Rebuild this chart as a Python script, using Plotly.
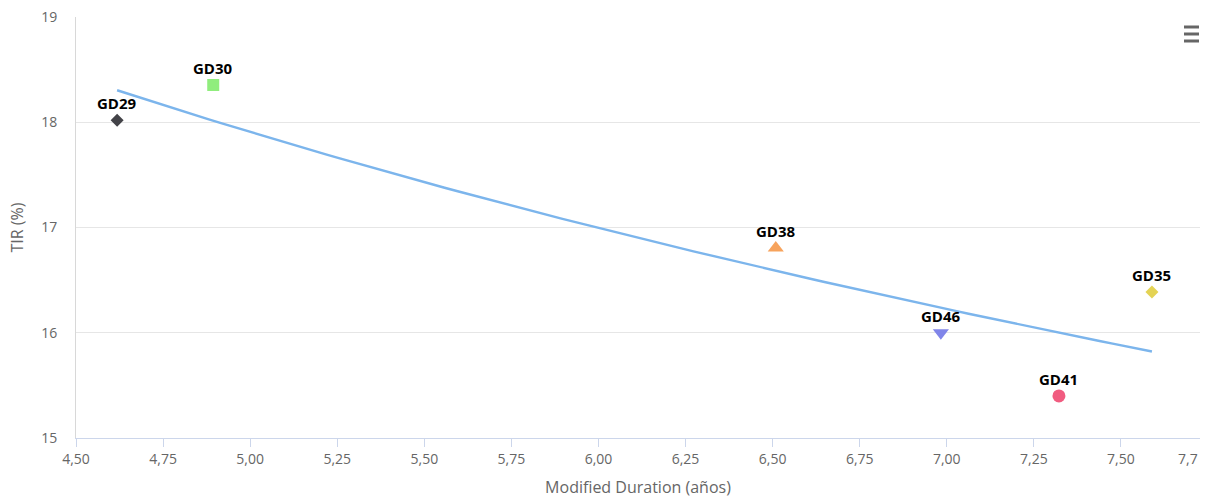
import numpy as np
import plotly.graph_objects as go

# ---- data ----
bond_names = ["GD29", "GD30", "GD38", "GD46", "GD41", "GD35"]
modified_duration = [4.618, 4.894, 6.509, 6.983, 7.322, 7.589]
tir_pct = [18.02, 18.354, 16.805, 16.00, 15.40, 16.387]
marker_symbols = ["diamond", "square", "triangle-up", "triangle-down", "circle", "diamond"]
marker_colors = ["#434348", "#90ed7d", "#f7a35c", "#8085e9", "#f15c80", "#e4d354"]
marker_sizes = [10, 12, 14, 14, 13, 10]
x_tick_values = [4.50, 4.75, 5.00, 5.25, 5.50, 5.75, 6.00, 6.25, 6.50, 6.75, 7.00, 7.25, 7.50]
y_tick_values = [15, 16, 17, 18, 19]

# logarithmic trend line (least squares on ln x)
lx = np.log(np.array(modified_duration))
b, a = np.polyfit(lx, np.array(tir_pct), 1)
trend_x = np.linspace(min(modified_duration), max(modified_duration), 80)
trend_y = a + b * np.log(trend_x)

FONT = "Open Sans"
fig = go.Figure()

fig.add_trace(go.Scatter(
    x=trend_x, y=trend_y, mode="lines",
    line=dict(color="#7cb5ec", width=2.4),
    hoverinfo="skip", showlegend=False,
))

for name, xv, yv, sym, col, sz in zip(bond_names, modified_duration, tir_pct,
                                      marker_symbols, marker_colors, marker_sizes):
    fig.add_trace(go.Scatter(
        x=[xv], y=[yv], mode="markers", name=name,
        marker=dict(symbol=sym, color=col, size=sz, line=dict(width=0)),
        showlegend=False,
    ))
    fig.add_annotation(
        x=xv, y=yv, xref="x", yref="y", text=name, showarrow=False,
        yshift=17, font=dict(family=FONT, size=15, color="#000000", weight="bold"),
    )

# clipped last tick label at the right edge
fig.add_annotation(
    x=1.0, y=0, xref="paper", yref="paper", text="7,7", showarrow=False,
    xanchor="right", yanchor="top", yshift=-9,
    font=dict(family=FONT, size=14, color="#666666"),
)

# context-menu (hamburger) icon
for dy in [27, 34, 41]:
    fig.add_shape(type="line", xref="paper", yref="paper",
                  x0=(1184 - 76) / 1124, x1=(1199 - 76) / 1124,
                  y0=1 - (dy - 17) / 421, y1=1 - (dy - 17) / 421,
                  line=dict(color="#666666", width=3))

fig.update_layout(
    width=1212, height=501,
    margin=dict(l=76, r=12, t=17, b=63, autoexpand=False),
    plot_bgcolor="#ffffff", paper_bgcolor="#ffffff",
    separators=",.",
    font=dict(family=FONT, size=14, color="#666666"),
    xaxis=dict(
        range=[4.5, 7.727], tickvals=x_tick_values, tickformat=".2f",
        showgrid=False, zeroline=False, automargin=False,
        showline=True, linecolor="#ccd6eb", linewidth=1,
        ticks="outside", ticklen=8, tickcolor="#ccd6eb",
        tickfont=dict(family=FONT, size=14, color="#666666"),
        title=dict(text="Modified Duration (años)",
                   font=dict(family=FONT, size=16, color="#666666"), standoff=15),
    ),
    yaxis=dict(
        range=[15, 19], tickvals=y_tick_values,
        showgrid=True, gridcolor="#e6e6e6", gridwidth=1, zeroline=False, automargin=False,
        showline=True, linecolor="#d8d8d8", linewidth=1,
        ticks="", ticklabelstandoff=15,
        tickfont=dict(family=FONT, size=14, color="#666666"),
        title=dict(text="TIR (%)",
                   font=dict(family=FONT, size=16, color="#666666"), standoff=13),
    ),
)

fig.write_html(
    "out.html",
    config={"displayModeBar": False},
    post_script="document.body.style.margin='0';document.body.style.overflow='hidden';",
)
